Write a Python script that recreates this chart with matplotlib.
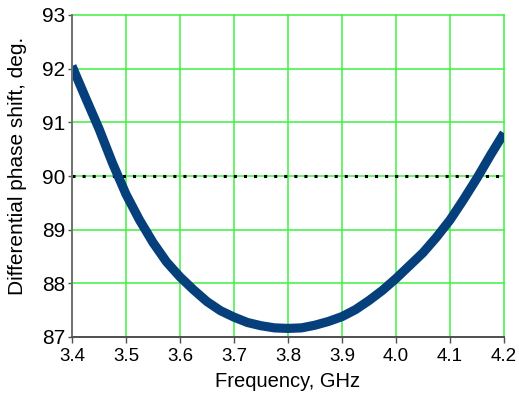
import matplotlib
matplotlib.use("Agg")
import matplotlib.pyplot as plt

freq_ghz = [3.400, 3.425, 3.450, 3.475, 3.500, 3.525, 3.550, 3.575, 3.600,
            3.625, 3.650, 3.675, 3.700, 3.725, 3.750, 3.775, 3.800,
            3.825, 3.850, 3.875, 3.900, 3.925, 3.950, 3.975, 4.000,
            4.025, 4.050, 4.075, 4.100, 4.125, 4.150, 4.175, 4.200]
phase_deg = [92.05, 91.46, 90.88, 90.24, 89.66, 89.18, 88.76, 88.40, 88.12,
             87.88, 87.66, 87.49, 87.37, 87.27, 87.21, 87.17, 87.16,
             87.17, 87.22, 87.29, 87.38, 87.51, 87.68, 87.87, 88.09,
             88.33, 88.57, 88.86, 89.18, 89.56, 89.96, 90.39, 90.80]
ref_level = 90.0
x_ticks = [3.4, 3.5, 3.6, 3.7, 3.8, 3.9, 4.0, 4.1, 4.2]
x_tick_labels = ["3.4", "3.5", "3.6", "3.7", "3.8", "3.9", "4.0", "4.1", "4.2"]
y_ticks = [87, 88, 89, 90, 91, 92, 93]
y_tick_labels = ["87", "88", "89", "90", "91", "92", "93"]

plt.rcParams['font.family'] = ['Liberation Sans', 'DejaVu Sans']

fig = plt.figure(figsize=(5.19, 3.94), dpi=100)
ax = fig.add_axes([72/519, 57/394, 432/519, 322/394])

grid_col = '#3ef03e'
for xv in x_ticks:
    ax.axvline(xv, color=grid_col, lw=1.1, zorder=1, clip_on=False)
for yv in y_ticks:
    ax.axhline(yv, color=grid_col, lw=1.1, zorder=1, clip_on=False)

ax.axhline(ref_level, color='black', lw=2.2, linestyle=(0, (1, 2.3)),
           dash_capstyle='butt', zorder=2)
ax.plot(freq_ghz, phase_deg, color='#053f7c', lw=6.6, solid_capstyle='butt',
        solid_joinstyle='round', zorder=3)

ax.set_xlim(3.4, 4.2)
ax.set_ylim(87, 93)
ax.set_xticks(x_ticks)
ax.set_xticklabels(x_tick_labels, fontsize=13.5)
ax.set_yticks(y_ticks)
ax.set_yticklabels(y_tick_labels, fontsize=15)

for s in ['top', 'right']:
    ax.spines[s].set_visible(False)
ax.spines['left'].set_color('#707070')
ax.spines['left'].set_linewidth(1.4)
ax.spines['bottom'].set_color('#505050')
ax.spines['bottom'].set_linewidth(1.4)
ax.spines['left'].set_zorder(4)
ax.spines['bottom'].set_zorder(4)

ax.tick_params(axis='x', direction='out', length=4, width=1, color='#505050', pad=4)
ax.tick_params(axis='y', direction='out', length=3, width=1, color='#505050', pad=2)

ax.set_xlabel("Frequency, GHz", fontsize=14.5, labelpad=5)
ax.set_ylabel("Differential phase shift, deg.", fontsize=15)
ax.yaxis.set_label_coords(-0.104, 0.53)

fig.savefig("out.png", dpi=100)
